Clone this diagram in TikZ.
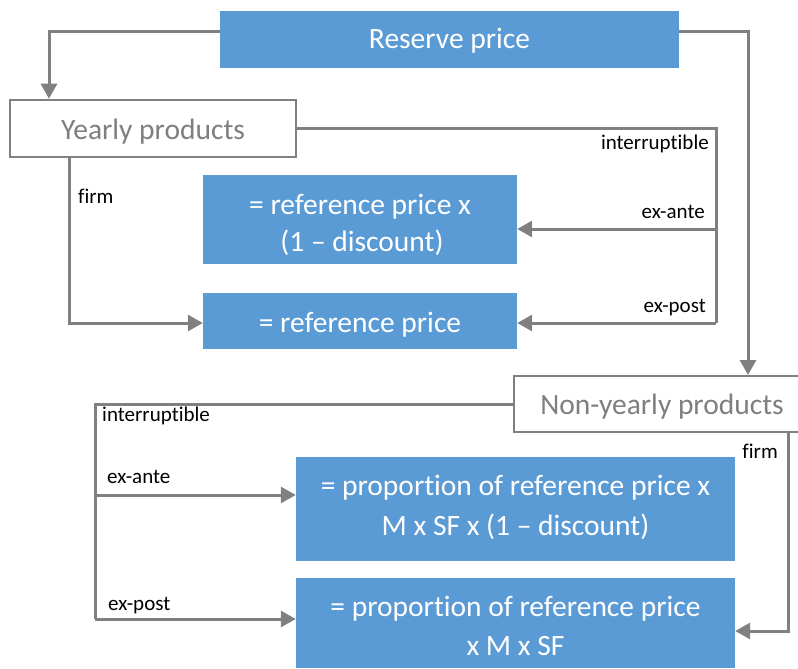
\documentclass[tikz,border=0pt]{standalone}
\usepackage{fontspec}
\setmainfont[Ligatures={NoCommon,NoContextual}]{Carlito}
\usetikzlibrary{arrows.meta,positioning}
\definecolor{boxblue}{HTML}{5B9BD5}
\definecolor{linegray}{HTML}{808080}
\definecolor{txtgray}{HTML}{7F7F7F}
\tikzset{
  bluebox/.style={fill=boxblue,inner sep=0pt},
  whitebox/.style={draw=linegray,line width=2.5pt,fill=white,inner sep=0pt},
  boxtext/.style={inner sep=0pt,anchor=base,text=white,font=\fontsize{29.5}{36}\selectfont},
  graytext/.style={boxtext,text=txtgray},
  conn/.style={draw=linegray,line width=3pt},
  arr/.style={conn,-{Triangle[length=15pt,width=16pt]}},
  lbl/.style={inner sep=0pt,font=\fontsize{21}{24}\selectfont,text=black}
}
\begin{document}
\begin{tikzpicture}[x=1pt,y=-1pt]
\useasboundingbox (0,0) rectangle (798,669);
\clip (0,0) rectangle (798,669);
% boxes
\node[bluebox,minimum width=459pt,minimum height=57pt] (reserve) at (449.5,39.5) {};
\node[whitebox,minimum width=286pt,minimum height=57pt] (yearly) at (153,128.5) {};
\node[bluebox,minimum width=314pt,minimum height=89pt] (box1) at (360,219.5) {};
\node[bluebox,minimum width=314pt,minimum height=56pt] (box2) at (360,321) {};
\node[whitebox,line width=2pt,minimum width=296pt,minimum height=56pt] (nonyearly) at (662,404) {};
\node[bluebox,minimum width=439pt,minimum height=104pt] (box3) at (515.5,509) {};
\node[bluebox,minimum width=439pt,minimum height=90pt] (box4) at (515.5,623) {};
% box texts
\node[boxtext] (t0) at (449.5,48.3) {Reserve price};
\node[graytext] (ty) at (153,139.5) {Yearly products};
\node[boxtext] (t1a) at (360,214.3) {= reference price x};
\node[boxtext] (t1b) at (362,251.7) {(1 -- discount)};
\node[boxtext] (t2) at (360,332.3) {= reference price};
\node[graytext] (tn) at (662,414) {Non-yearly products};
\node[boxtext] (t3a) at (515.5,495.7) {= proportion of reference price x};
\node[boxtext] (t3b) at (515.5,535) {M x SF x (1 -- discount)};
\node[boxtext] (t4a) at (515.5,616.7) {= proportion of reference price};
\node[boxtext] (t4b) at (515.5,655) {x M x SF};
% coordinates
\coordinate (ya) at (716,229);
\coordinate (yp) at (716,323);
\coordinate (na) at (95,495);
\coordinate (np) at (95,619);
% connectors from reserve price
\draw[arr] ([yshift=7.5pt]reserve.west) -| ([xshift=-104pt]yearly.north);
\draw[arr] ([yshift=7.5pt]reserve.east) -| ([xshift=86pt]nonyearly.north);
% yearly products
\draw[conn] (yearly.east) -| (yp);
\draw[arr] (ya) -- (ya -| box1.east);
\draw[arr] (yp) -- (yp -| box2.east);
\draw[arr] ([xshift=-84pt]yearly.south) |- ([yshift=-2pt]box2.west);
\node[lbl,anchor=base east] (l1) at (709,149) {interrup\kern0pt tible};
\node[lbl,anchor=base east] (l2) at (705,218) {ex-ante};
\node[lbl,anchor=base east] (l3) at (706,312) {ex-post};
\node[lbl,anchor=base west] (l4) at (78,203) {firm};
% non-yearly products
\draw[conn] (nonyearly.west) -| (np);
\draw[arr] (na) -- (na -| box3.west);
\draw[arr] (np) -- (np -| box4.west);
\draw[arr] ([xshift=126pt]nonyearly.south) |- ([yshift=-8pt]box4.east);
\node[lbl,anchor=base west] (l5) at (102,421.5) {interrup\kern0pt tible};
\node[lbl,anchor=base west] (l6) at (107,483) {ex-ante};
\node[lbl,anchor=base west] (l7) at (108,610) {ex-post};
\node[lbl,anchor=base east] (l8) at (778,458) {firm};
\end{tikzpicture}
\end{document}
